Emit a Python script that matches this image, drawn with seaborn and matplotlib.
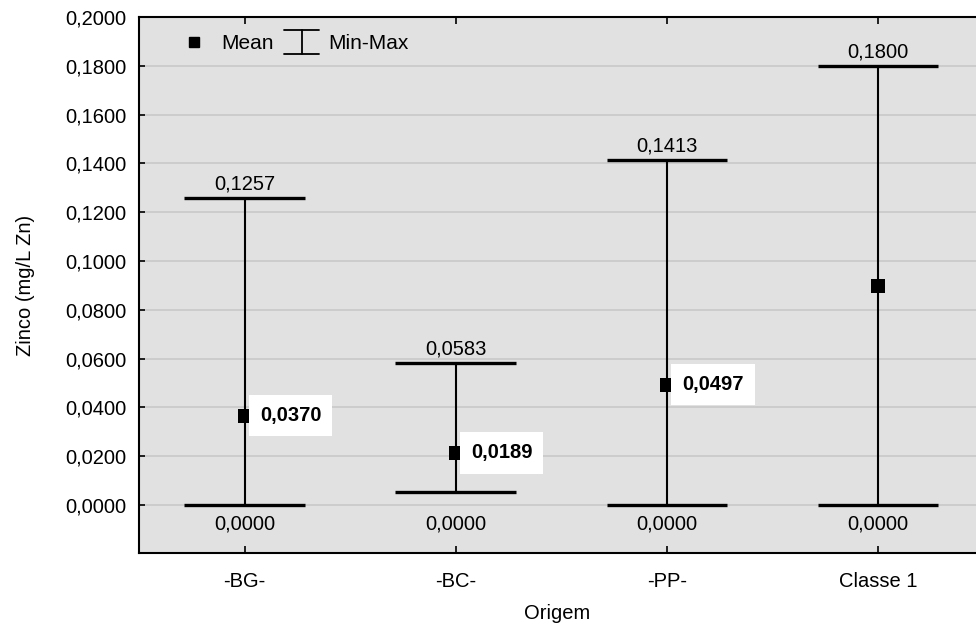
import matplotlib
matplotlib.use("Agg")
import matplotlib.pyplot as plt
import seaborn as sns
import pandas as pd
from matplotlib.lines import Line2D
from matplotlib.legend_handler import HandlerBase
from matplotlib.ticker import FuncFormatter

categories = ["-BG-", "-BC-", "-PP-", "Classe 1"]
mean_vals = [0.0365, 0.0213, 0.0492, 0.0898]
min_vals = [0.0, 0.0053, 0.0, 0.0]
max_vals = [0.1257, 0.0583, 0.1413, 0.1800]
mean_labels = ["0,0370", "0,0189", "0,0497", None]
min_labels = ["0,0000", "0,0000", "0,0000", "0,0000"]
max_labels = ["0,1257", "0,0583", "0,1413", "0,1800"]
y_ticks = [0.00, 0.02, 0.04, 0.06, 0.08, 0.10, 0.12, 0.14, 0.16, 0.18, 0.20]

df = pd.DataFrame({"Origem": categories, "Mean": mean_vals,
                   "Min": min_vals, "Max": max_vals})

sns.set_theme(style="white")
plt.rcParams["font.family"] = ["Liberation Sans", "DejaVu Sans"]
plt.rcParams["text.color"] = "black"


class HandlerIBar(HandlerBase):
    def create_artists(self, legend, orig_handle, xdescent, ydescent, width, height,
                       fontsize, trans):
        cx = width / 2 - xdescent
        cy = height / 2 - ydescent
        hh = height * 0.8
        hw = width / 2
        lw = 1.3
        v = Line2D([cx, cx], [cy - hh, cy + hh], color="black", lw=lw, transform=trans)
        t = Line2D([cx - hw, cx + hw], [cy + hh, cy + hh], color="black", lw=lw, transform=trans)
        b = Line2D([cx - hw, cx + hw], [cy - hh, cy - hh], color="black", lw=lw, transform=trans)
        return [v, t, b]


fig = plt.figure(figsize=(9.76, 6.34), dpi=100)
ax = fig.add_axes([139 / 976, 1 - 553 / 634, 1 - 139 / 976, (553 - 17) / 634])
ax.set_facecolor("#e1e1e1")

for yt in y_ticks:
    ax.axhline(yt, color="#c6c6c6", lw=1.1, zorder=0)

xs = list(range(len(categories)))
ax.vlines(xs, df["Min"], df["Max"], color="black", lw=1.5, zorder=2)
cap = 0.285
ax.hlines(df["Max"], [x - cap for x in xs], [x + cap for x in xs], color="black", lw=2.4, zorder=2)
ax.hlines(df["Min"], [x - cap for x in xs], [x + cap for x in xs], color="black", lw=2.4, zorder=2)

sns.scatterplot(data=df, x="Origem", y="Mean", marker="s", s=110, color="black",
                edgecolor="black", linewidth=0, ax=ax, zorder=3, legend=False)

fs = 14.5
for i in xs:
    ax.annotate(max_labels[i], (i, max_vals[i]), xytext=(0, 10), textcoords="offset points",
                ha="center", va="center", fontsize=fs, color="black")
    ax.annotate(min_labels[i], (i, 0.0), xytext=(0, -14), textcoords="offset points",
                ha="center", va="center", fontsize=fs, color="black")
    if mean_labels[i]:
        ax.annotate(mean_labels[i], (i, mean_vals[i]), xytext=(11, 0), textcoords="offset points",
                    ha="left", va="center", fontsize=fs, fontweight="bold", color="black",
                    bbox=dict(boxstyle="square,pad=0.55", fc="white", ec="none"), zorder=4)

ax.set_xlim(-0.5, 3.465)
ax.set_ylim(-0.0197, 0.2)
ax.set_yticks(y_ticks)
ax.yaxis.set_major_formatter(FuncFormatter(lambda v, p: f"{v:.4f}".replace(".", ",")))
ax.set_xticks(xs)
ax.set_xticklabels(categories)
ax.tick_params(axis="x", direction="in", top=True, bottom=True, length=5, width=1.2,
               labelsize=fs, pad=14, colors="black")
ax.tick_params(axis="y", direction="in", left=True, right=False, length=4, width=1.2,
               labelsize=fs, pad=9, colors="black")
for s in ["left", "bottom", "top"]:
    ax.spines[s].set_visible(True)
    ax.spines[s].set_color("black")
    ax.spines[s].set_linewidth(1.5)
ax.spines["right"].set_visible(False)

ax.set_xlabel("Origem", fontsize=fs, labelpad=9, color="black")
ax.set_ylabel("Zinco (mg/L Zn)", fontsize=fs, labelpad=22, color="black")

mean_handle = Line2D([], [], marker="s", color="black", linestyle="none", markersize=7.5)
ibar_handle = Line2D([], [], color="black")
leg = ax.legend([mean_handle, ibar_handle], ["Mean", "Min-Max"], loc="upper left", ncol=2,
                frameon=False, fontsize=15, handlelength=1.7, handletextpad=0.45,
                columnspacing=0.5, bbox_to_anchor=(0.027, 0.995), borderaxespad=0.3,
                handler_map={ibar_handle: HandlerIBar()}, labelcolor="black")

fig.savefig("out.png", dpi=100, facecolor="white")
